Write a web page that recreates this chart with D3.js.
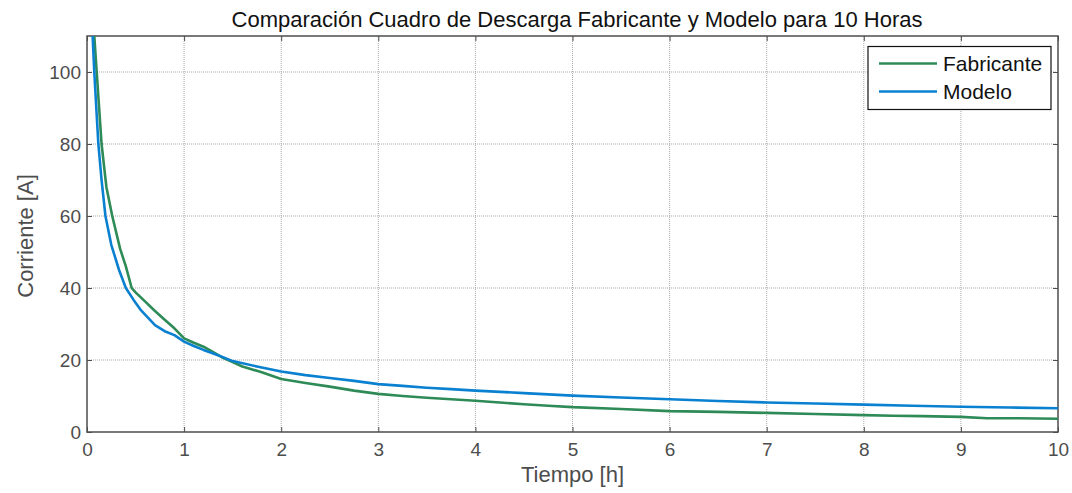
<!DOCTYPE html>
<html>
<head>
<meta charset="utf-8">
<script src="https://cdn.jsdelivr.net/npm/d3@7"></script>
<style>
  body { margin: 0; background: #fff; }
  text { font-family: "Liberation Sans", Arial, sans-serif; }
</style>
</head>
<body>
<script>
// discharge data: time [h], current [A]
const fabTime = [0.04, 0.075, 0.10, 0.15, 0.20, 0.26, 0.34, 0.40, 0.46, 0.50, 0.60, 0.70, 0.80, 0.90, 1.00, 1.10, 1.20, 1.30, 1.40, 1.50, 1.60, 1.80, 2.00, 2.25, 2.50, 2.75, 3.00, 3.25, 3.50, 3.75, 4.00, 4.25, 4.50, 4.75, 5.00, 5.50, 6.00, 6.50, 7.00, 7.50, 8.00, 8.30, 8.60, 9.00, 9.27, 9.60, 10.0]
const fabCurrent = [125, 110, 100, 80, 68, 60, 51, 46, 40, 38.8, 36.2, 33.6, 31.2, 28.8, 26, 24.8, 23.7, 22.2, 20.6, 19.4, 18.2, 16.6, 14.7, 13.6, 12.6, 11.5, 10.6, 10.0, 9.5, 9.1, 8.7, 8.2, 7.7, 7.3, 6.9, 6.4, 5.8, 5.6, 5.3, 5.0, 4.7, 4.5, 4.4, 4.2, 3.8, 3.8, 3.7]

const modTime = [0.03, 0.058, 0.075, 0.10, 0.117, 0.15, 0.19, 0.25, 0.33, 0.40, 0.48, 0.55, 0.70, 0.80, 0.90, 1.00, 1.10, 1.20, 1.30, 1.40, 1.50, 1.75, 2.00, 2.25, 2.50, 2.75, 3.00, 3.25, 3.50, 3.75, 4.00, 4.50, 5.00, 5.50, 6.00, 6.50, 7.00, 7.50, 8.00, 8.50, 9.00, 9.50, 10.0]
const modCurrent = [135, 110, 100, 88, 80, 70, 60, 52, 45, 40, 36.7, 34, 29.7, 28, 26.9, 25.1, 23.9, 22.8, 21.8, 20.8, 19.7, 18.2, 16.8, 15.8, 15.0, 14.2, 13.3, 12.8, 12.3, 11.9, 11.5, 10.8, 10.1, 9.6, 9.1, 8.6, 8.2, 7.9, 7.6, 7.3, 7.0, 6.8, 6.6]

const xTicks = [0, 1, 2, 3, 4, 5, 6, 7, 8, 9, 10]
const yTicks = [0, 20, 40, 60, 80, 100]

const seriesNames = ["Fabricante", "Modelo"]
const seriesColors = ["#2e8b57", "#0a80d0"]

const w = 1072
const h = 493
const margin = { left: 87, right: 14, top: 36, bottom: 61 }

const x = d3.scaleLinear().domain([0, 10]).range([margin.left, w - margin.right])
const y = d3.scaleLinear().domain([0, 110]).range([h - margin.bottom, margin.top])

const svg = d3.select("body").append("svg")
    .attr("width", w)
    .attr("height", h)

const plotW = x(10) - x(0)
const plotH = y(0) - y(110)

svg.append("defs").append("clipPath").attr("id", "clip")
    .append("rect")
    .attr("x", x(0)).attr("y", y(110))
    .attr("width", plotW).attr("height", plotH)

// grid
svg.append("g")
    .selectAll("line")
    .data(xTicks.slice(1, -1))
    .join("line")
    .attr("x1", d => x(d)).attr("x2", d => x(d))
    .attr("y1", y(0)).attr("y2", y(110))
    .attr("stroke", "#a8a8a8")
    .attr("stroke-width", 1)
    .attr("stroke-dasharray", "1,1")

svg.append("g")
    .selectAll("line")
    .data(yTicks.slice(1))
    .join("line")
    .attr("x1", x(0)).attr("x2", x(10))
    .attr("y1", d => y(d)).attr("y2", d => y(d))
    .attr("stroke", "#a8a8a8")
    .attr("stroke-width", 1)
    .attr("stroke-dasharray", "1,1")

// axes (ticks point inward, on all four sides)
const tickColor = "#4d4d4d"

const xAxis = svg.append("g")
    .attr("transform", `translate(0,${y(0)})`)
    .call(d3.axisBottom(x).tickValues(xTicks).tickSize(-5).tickPadding(11))
xAxis.select(".domain").remove()

const yAxis = svg.append("g")
    .attr("transform", `translate(${x(0)},0)`)
    .call(d3.axisLeft(y).tickValues(yTicks).tickSize(-5).tickPadding(6))
yAxis.select(".domain").remove()

svg.append("g")
    .attr("transform", `translate(0,${y(110)})`)
    .call(d3.axisTop(x).tickValues(xTicks).tickSize(-5).tickFormat(""))
    .select(".domain").remove()

svg.append("g")
    .attr("transform", `translate(${x(10)},0)`)
    .call(d3.axisRight(y).tickValues(yTicks).tickSize(-5).tickFormat(""))
    .select(".domain").remove()

svg.selectAll(".tick line").attr("stroke", tickColor)
svg.selectAll(".tick text")
    .attr("fill", tickColor)
    .style("font-size", "19px")
    .style("font-family", "'Liberation Sans', Arial, sans-serif")

// frame
svg.append("rect")
    .attr("x", x(0)).attr("y", y(110))
    .attr("width", plotW).attr("height", plotH)
    .attr("fill", "none")
    .attr("stroke", tickColor)
    .attr("stroke-width", 1.5)

// curves
const line = d3.line().x(d => x(d[0])).y(d => y(d[1]))
const series = [
    d3.zip(fabTime, fabCurrent),
    d3.zip(modTime, modCurrent)
]

svg.append("g").attr("clip-path", "url(#clip)")
    .selectAll("path")
    .data(series)
    .join("path")
    .attr("d", line)
    .attr("fill", "none")
    .attr("stroke", (d, i) => seriesColors[i])
    .attr("stroke-width", 2.6)
    .attr("stroke-linejoin", "round")

// title and labels
svg.append("text")
    .attr("x", 577)
    .attr("y", 27)
    .attr("text-anchor", "middle")
    .attr("fill", "#111")
    .style("font-size", "22px")
    .text("Comparación Cuadro de Descarga Fabricante y Modelo para 10 Horas")

svg.append("text")
    .attr("x", (x(0) + x(10)) / 2)
    .attr("y", 482)
    .attr("text-anchor", "middle")
    .attr("fill", tickColor)
    .style("font-size", "22px")
    .text("Tiempo [h]")

svg.append("text")
    .attr("transform", `translate(33,236) rotate(-90)`)
    .attr("text-anchor", "middle")
    .attr("fill", tickColor)
    .style("font-size", "22px")
    .text("Corriente [A]")

// legend
const legend = svg.append("g")
legend.append("rect")
    .attr("x", 868).attr("y", 46.5)
    .attr("width", 183).attr("height", 63)
    .attr("fill", "#fff")
    .attr("stroke", "#111")
    .attr("stroke-width", 1.2)

const entries = legend.selectAll("g.entry")
    .data(seriesNames)
    .join("g")
    .attr("class", "entry")
    .attr("transform", (d, i) => `translate(0,${63.5 + i * 28})`)

entries.append("line")
    .attr("x1", 879).attr("x2", 937)
    .attr("stroke", (d, i) => seriesColors[i])
    .attr("stroke-width", 2.6)

entries.append("text")
    .attr("x", 943)
    .attr("y", 7.5)
    .attr("fill", "#111")
    .style("font-size", "21px")
    .text(d => d)
</script>
</body>
</html>
